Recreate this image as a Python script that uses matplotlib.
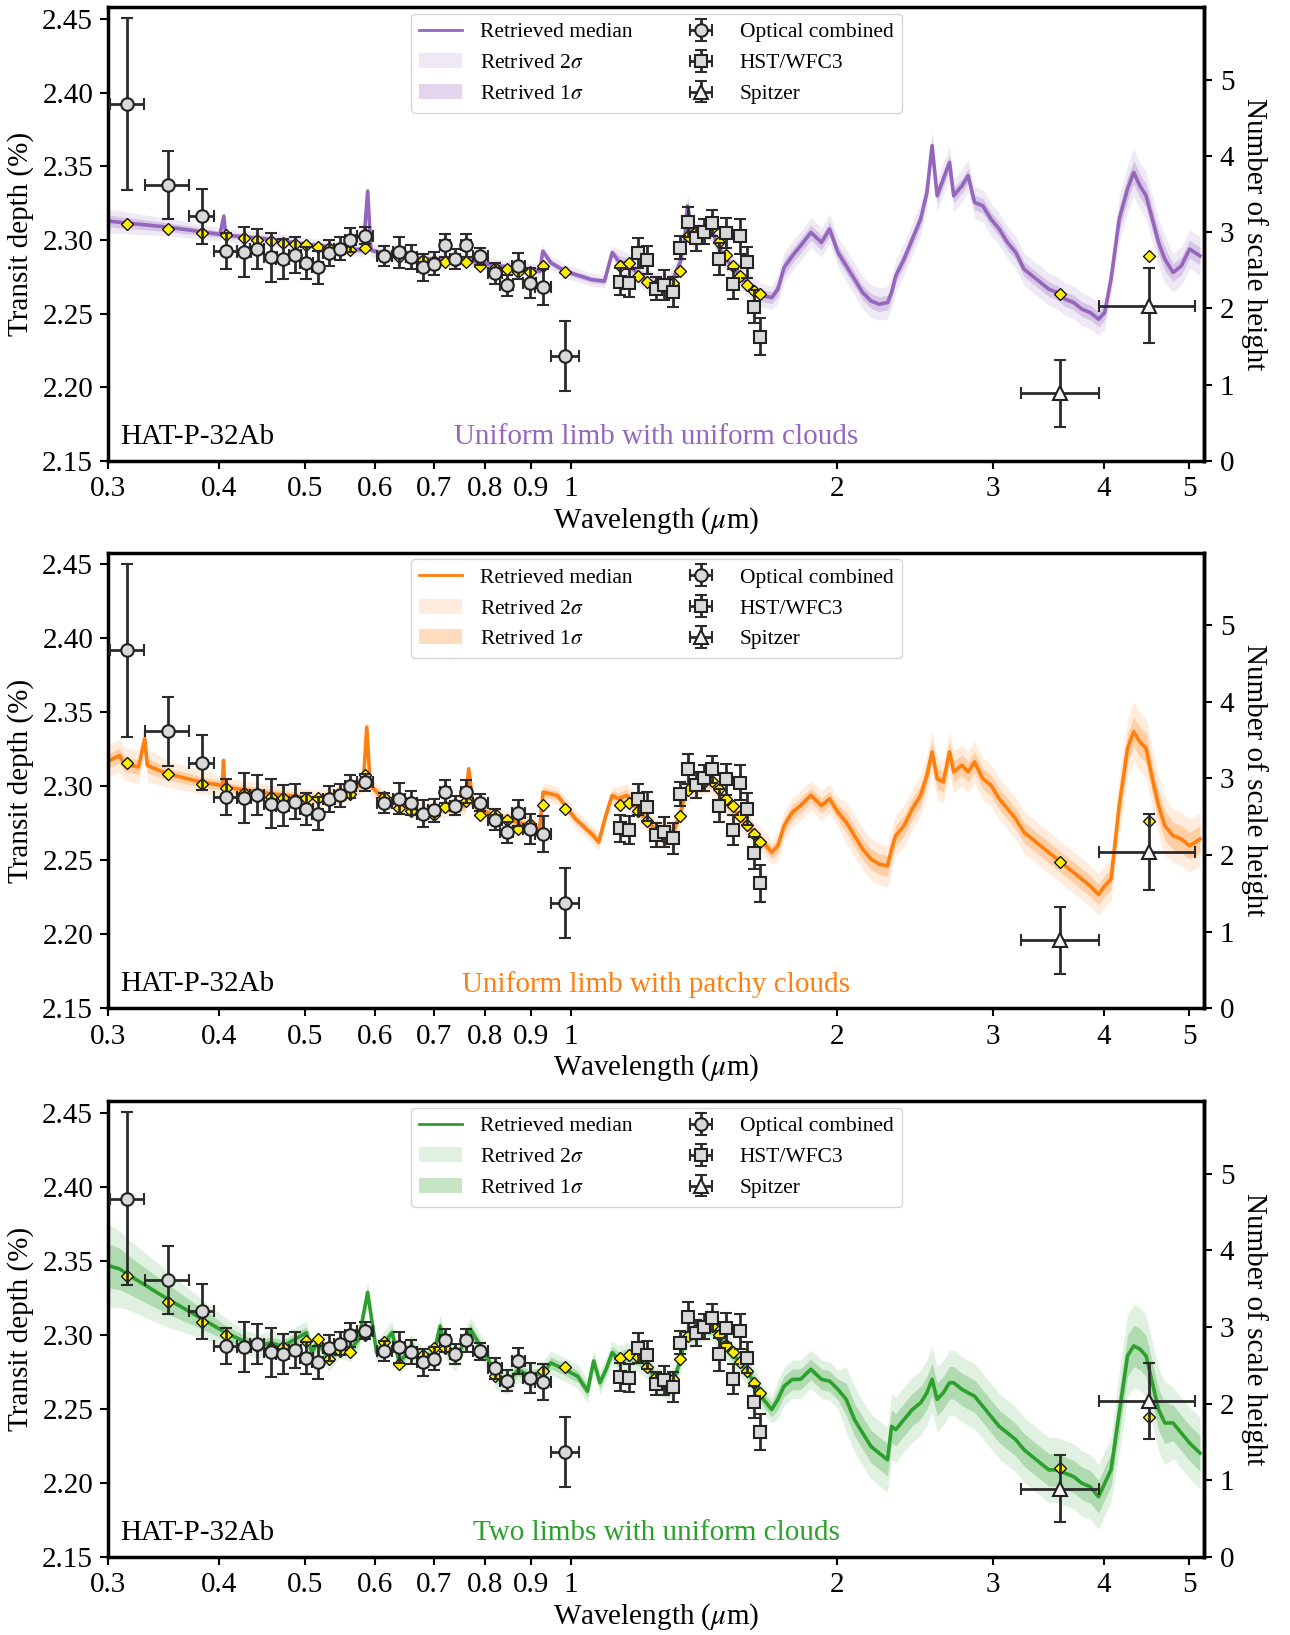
import numpy as np
import matplotlib
matplotlib.use("Agg")
import matplotlib.pyplot as plt
from matplotlib.patches import Patch
from matplotlib.lines import Line2D
from matplotlib.ticker import FixedLocator, NullLocator

plt.rcParams["font.family"] = ["Liberation Serif", "DejaVu Serif"]
plt.rcParams["mathtext.fontset"] = "stix"

# --- Observed spectrum (same in every panel) ---
OPT_WL = [0.315, 0.350, 0.3825, 0.407, 0.4267, 0.4418, 0.4575, 0.4721, 0.4873, 0.5022,
          0.5170, 0.5323, 0.5475, 0.5630, 0.5849, 0.6149, 0.6397, 0.6601, 0.6797, 0.6998,
          0.7204, 0.7398, 0.7600, 0.7897, 0.8214, 0.8457, 0.8719, 0.8977, 0.9294, 0.985]
OPT_D = [2.3921, 2.3372, 2.3161, 2.2927, 2.2921, 2.2941, 2.2884, 2.2871, 2.2898, 2.2846,
         2.2816, 2.2914, 2.2941, 2.3000, 2.3029, 2.2891, 2.2918, 2.2887, 2.2816, 2.2839,
         2.2964, 2.2871, 2.2964, 2.2891, 2.2775, 2.2692, 2.2823, 2.2710, 2.2680, 2.2211]
OPT_ERR = [0.0584, 0.0232, 0.0185, 0.0122, 0.0169, 0.0136, 0.0166, 0.0137, 0.0121, 0.0109,
           0.0113, 0.0087, 0.0077, 0.0079, 0.0057, 0.0068, 0.0105, 0.0083, 0.0091, 0.0078,
           0.0079, 0.0066, 0.0079, 0.0057, 0.0070, 0.0071, 0.0088, 0.0102, 0.0122, 0.0238]
OPT_XERR = [0.014, 0.020, 0.0125, 0.012, 0.008, 0.008, 0.008, 0.008, 0.008, 0.008,
            0.008, 0.008, 0.008, 0.008, 0.012, 0.012, 0.010, 0.010, 0.010, 0.010,
            0.010, 0.010, 0.010, 0.015, 0.015, 0.015, 0.015, 0.015, 0.020, 0.035]

WFC3_WL = [1.135, 1.163, 1.190, 1.218, 1.246, 1.274, 1.303, 1.329, 1.357, 1.386,
           1.414, 1.444, 1.470, 1.497, 1.526, 1.554, 1.580, 1.611, 1.637]
WFC3_D = [2.2717, 2.2708, 2.2912, 2.2864, 2.2671, 2.2694, 2.2649, 2.2948, 2.3120, 2.3011,
          2.3057, 2.3116, 2.2871, 2.3048, 2.2705, 2.3025, 2.2848, 2.2549, 2.2345]
WFC3_ERR = [0.0093, 0.0095, 0.0104, 0.0096, 0.0079, 0.0100, 0.0102, 0.0079, 0.0102, 0.0088,
            0.0086, 0.0091, 0.0111, 0.0104, 0.0102, 0.0119, 0.0105, 0.0109, 0.0124]

SPZ_WL = [3.568, 4.497]
SPZ_D = [2.1961, 2.2556]
SPZ_ERR = [0.0227, 0.0255]
SPZ_XERR = [[0.34, 0.55], [0.38, 0.57]]

# --- Retrieved spectra: infrared wavelength grid shared by all panels ---
IR_WL = [1.131, 1.156, 1.188, 1.220, 1.246, 1.288, 1.309, 1.330, 1.344, 1.354,
         1.373, 1.411, 1.442, 1.465, 1.497, 1.530, 1.563, 1.614, 1.650, 1.686,
         1.713, 1.741, 1.779, 1.817, 1.867, 1.919, 1.960, 2.003, 2.047, 2.091,
         2.136, 2.183, 2.230, 2.279, 2.303, 2.328, 2.379, 2.431, 2.484, 2.525,
         2.559, 2.593, 2.635, 2.678, 2.707, 2.766, 2.811, 2.858, 2.920, 2.983,
         3.048, 3.114, 3.182, 3.251, 3.322, 3.394, 3.468, 3.543, 3.620, 3.700,
         3.780, 3.863, 3.947, 4.011, 4.077, 4.165, 4.256, 4.325, 4.396, 4.467,
         4.540, 4.614, 4.690, 4.792, 4.896, 5.003, 5.140]

# panel 1: uniform limb, uniform clouds
P1_OPT_WL = [0.300, 0.350, 0.3825, 0.401, 0.405, 0.407, 0.4575, 0.502, 0.563, 0.582,
             0.589, 0.594, 0.615, 0.680, 0.760, 0.766, 0.772, 0.821, 0.898, 0.922,
             0.929, 0.949, 0.985, 1.054, 1.091, 1.113]
P1_OPT_D = [2.3129, 2.3088, 2.3057, 2.3039, 2.3163, 2.3034, 2.3005, 2.2971, 2.2941, 2.2932,
            2.3333, 2.2932, 2.2909, 2.2873, 2.2864, 2.2880, 2.2857, 2.2828, 2.2800, 2.2789,
            2.2925, 2.2846, 2.2789, 2.2732, 2.2721, 2.2916]
P1_IR_D = [2.2859, 2.2837, 2.2780, 2.2723, 2.2701, 2.2712, 2.2757, 2.2859, 2.3007, 2.3233,
           2.3029, 2.3075, 2.3075, 2.2961, 2.2871, 2.2803, 2.2735, 2.2655, 2.2621, 2.2610,
           2.2667, 2.2814, 2.2893, 2.2961, 2.3052, 2.2984, 2.3075, 2.2916, 2.2825, 2.2735,
           2.2644, 2.2587, 2.2565, 2.2576, 2.2644, 2.2757, 2.2871, 2.3007, 2.3143, 2.3324,
           2.3641, 2.3301, 2.3415, 2.3528, 2.3301, 2.3369, 2.3437, 2.3256, 2.3233, 2.3143,
           2.3075, 2.2984, 2.2916, 2.2803, 2.2757, 2.2712, 2.2667, 2.2644, 2.2599, 2.2576,
           2.2531, 2.2508, 2.2463, 2.2508, 2.2735, 2.3143, 2.3347, 2.3460, 2.3369, 2.3301,
           2.3143, 2.2984, 2.2871, 2.2780, 2.2825, 2.2939, 2.2893]
P1_OPT_SIG1 = [0.004, 0.003, 0.0025] + [0.002] * 23
P1_OPT_SIG2 = [0.008, 0.006, 0.005] + [0.0045] * 23
P1_IR_SIG1 = [0.004] * 20 + [0.005] * 8 + [0.005] * 37 + [0.008] * 8 + [0.006] * 4
P1_IR_SIG2 = [0.008] * 20 + [0.010] * 8 + [0.011] * 37 + [0.016] * 8 + [0.013] * 4
P1_BIN_OPT = [2.3107, 2.3077, 2.3048, 2.3034, 2.3011, 2.3002, 2.2993, 2.2982, 2.2971, 2.2966,
              2.2955, 2.2948, 2.2941, 2.2932, 2.2946, 2.2896, 2.2884, 2.2880, 2.2868, 2.2855,
              2.2853, 2.2855, 2.2853, 2.2821, 2.2812, 2.2805, 2.2782, 2.2785, 2.2823, 2.2785]
P1_BIN_WFC3 = [2.2821, 2.2844, 2.2757, 2.2717, 2.2694, 2.2699, 2.2708, 2.2787, 2.3025, 2.3052,
               2.3070, 2.3079, 2.2984, 2.2898, 2.2821, 2.2757, 2.2694, 2.2655, 2.2633]
P1_BIN_SPZ = [2.2634, 2.2890]

# panel 2: uniform limb, patchy clouds
P2_OPT_WL = [0.301, 0.3087, 0.3125, 0.3244, 0.3297, 0.3319, 0.3494, 0.3824, 0.4036, 0.4047,
             0.4059, 0.4578, 0.5168, 0.5621, 0.5824, 0.5876, 0.5929, 0.6141, 0.6772, 0.7595,
             0.7661, 0.7752, 0.8162, 0.8957, 0.9214, 0.9298, 0.9652, 1.011, 1.0594, 1.0745,
             1.0946, 1.113]
P2_OPT_D = [2.3176, 2.3209, 2.3153, 2.3131, 2.3322, 2.3142, 2.3086, 2.3029, 2.3007, 2.3176,
            2.2996, 2.2951, 2.2917, 2.2962, 2.3029, 2.3401, 2.3007, 2.2917, 2.2827, 2.2872,
            2.3119, 2.2872, 2.2804, 2.2737, 2.2714, 2.2962, 2.2939, 2.2782, 2.2669, 2.2624,
            2.2804, 2.2940]
P2_IR_D = [2.2917, 2.2940, 2.2849, 2.2770, 2.2701, 2.2667, 2.2713, 2.2826, 2.2940, 2.2974,
           2.3008, 2.3030, 2.3030, 2.2962, 2.2894, 2.2838, 2.2770, 2.2679, 2.2622, 2.2554,
           2.2599, 2.2735, 2.2826, 2.2871, 2.2940, 2.2871, 2.2917, 2.2826, 2.2758, 2.2667,
           2.2577, 2.2509, 2.2475, 2.2463, 2.2577, 2.2667, 2.2735, 2.2849, 2.2940, 2.3076,
           2.3234, 2.3053, 2.3030, 2.3234, 2.3098, 2.3144, 2.3098, 2.3166, 2.3053, 2.3008,
           2.2917, 2.2849, 2.2781, 2.2690, 2.2645, 2.2599, 2.2554, 2.2509, 2.2463, 2.2418,
           2.2373, 2.2327, 2.2271, 2.2327, 2.2373, 2.2871, 2.3257, 2.3370, 2.3302, 2.3257,
           2.3053, 2.2871, 2.2735, 2.2667, 2.2645, 2.2599, 2.2645]
P2_OPT_SIG1 = [0.005] * 6 + [0.004, 0.0035] + [0.003] * 24
P2_OPT_SIG2 = [0.011] * 6 + [0.009, 0.008] + [0.006] * 24
P2_IR_SIG1 = [0.004] * 20 + [0.005] * 8 + [0.007] * 37 + [0.010] * 8 + [0.009] * 4
P2_IR_SIG2 = [0.008] * 20 + [0.010] * 8 + [0.014] * 37 + [0.020] * 8 + [0.018] * 4
P2_BIN_OPT = [2.3158, 2.3086, 2.3014, 2.2993, 2.2957, 2.2939, 2.2932, 2.2921, 2.2917, 2.2921,
              2.2921, 2.2921, 2.2935, 2.2950, 2.3079, 2.2932, 2.2856, 2.2831, 2.2804, 2.2804,
              2.2860, 2.2872, 2.2905, 2.2804, 2.2816, 2.2771, 2.2710, 2.2748, 2.2872, 2.2849]
P2_BIN_WFC3 = [2.2876, 2.2890, 2.2831, 2.2765, 2.2679, 2.2657, 2.2663, 2.2799, 2.2978, 2.3019,
               2.3031, 2.3035, 2.2980, 2.2912, 2.2867, 2.2799, 2.2740, 2.2679, 2.2627]
P2_BIN_SPZ = [2.2493, 2.2769]

# panel 3: two limbs, uniform clouds
P3_OPT_WL = [0.300, 0.3088, 0.315, 0.350, 0.3825, 0.407, 0.4267, 0.4418, 0.4575, 0.4721,
             0.4873, 0.5022, 0.5092, 0.5170, 0.5323, 0.5475, 0.5630, 0.5754, 0.5889, 0.6029,
             0.6149, 0.6278, 0.6397, 0.6601, 0.6797, 0.6998, 0.7112, 0.7204, 0.7398, 0.7600,
             0.7697, 0.7897, 0.8064, 0.8214, 0.8457, 0.8719, 0.8977, 0.9294, 0.9490, 0.985,
             1.0176, 1.0436, 1.0606, 1.0779, 1.0954, 1.113]
P3_OPT_D = [2.3469, 2.3447, 2.3413, 2.3243, 2.3111, 2.3016, 2.2959, 2.2925, 2.2948, 2.2925,
            2.2971, 2.3016, 2.2880, 2.2959, 2.2834, 2.2925, 2.2902, 2.2971, 2.3288, 2.2880,
            2.2948, 2.3016, 2.2812, 2.2925, 2.2834, 2.2880, 2.3061, 2.2925, 2.2834, 2.2971,
            2.3039, 2.2925, 2.2834, 2.2721, 2.2676, 2.2766, 2.2721, 2.2744, 2.2812, 2.2766,
            2.2721, 2.2621, 2.2825, 2.2678, 2.2769, 2.2882]
P3_IR_D = [2.2837, 2.2859, 2.2848, 2.2791, 2.2701, 2.2655, 2.2712, 2.2837, 2.2973, 2.3007,
           2.3007, 2.3052, 2.3052, 2.2995, 2.2927, 2.2859, 2.2791, 2.2678, 2.2565, 2.2497,
           2.2565, 2.2655, 2.2701, 2.2701, 2.2769, 2.2701, 2.2689, 2.2633, 2.2565, 2.2429,
           2.2338, 2.2247, 2.2202, 2.2157, 2.2383, 2.2361, 2.2429, 2.2497, 2.2542, 2.2610,
           2.2701, 2.2565, 2.2610, 2.2678, 2.2678, 2.2633, 2.2610, 2.2587, 2.2519, 2.2451,
           2.2383, 2.2338, 2.2293, 2.2225, 2.2179, 2.2134, 2.2089, 2.2089, 2.2066, 2.2043,
           2.1998, 2.1975, 2.1907, 2.1998, 2.2089, 2.2474, 2.2859, 2.2927, 2.2905, 2.2859,
           2.2678, 2.2497, 2.2406, 2.2406, 2.2338, 2.2270, 2.2202]
P3_OPT_SIG1 = [0.015, 0.014, 0.013, 0.010, 0.007, 0.005] + [0.004] * 40
P3_OPT_SIG2 = [0.028, 0.026, 0.024, 0.019, 0.013, 0.010] + [0.008] * 40
P3_IR_SIG1 = [0.005] * 20 + [0.007] * 8 + [0.011] * 37 + [0.014] * 8 + [0.012] * 4
P3_IR_SIG2 = [0.009] * 20 + [0.013] * 8 + [0.022] * 37 + [0.028] * 8 + [0.024] * 4
P3_BIN_OPT = [2.3397, 2.3225, 2.3088, 2.2998, 2.2925, 2.2925, 2.2914, 2.2921, 2.2902, 2.2959,
              2.2971, 2.2839, 2.2891, 2.2887, 2.3000, 2.2952, 2.2807, 2.2902, 2.2868, 2.2914,
              2.2914, 2.2884, 2.2959, 2.2873, 2.2721, 2.2694, 2.2834, 2.2710, 2.2755, 2.2785]
P3_BIN_WFC3 = [2.2844, 2.2866, 2.2855, 2.2787, 2.2719, 2.2678, 2.2701, 2.2837, 2.2995, 2.3041,
               2.3059, 2.3059, 2.3000, 2.2932, 2.2887, 2.2818, 2.2757, 2.2678, 2.2610]
P3_BIN_SPZ = [2.2103, 2.2443]

PANELS = [
    dict(title="Uniform limb with uniform clouds", color="#9467bd",
         opt_wl=P1_OPT_WL, opt_d=P1_OPT_D, ir_d=P1_IR_D,
         s1=P1_OPT_SIG1 + P1_IR_SIG1, s2=P1_OPT_SIG2 + P1_IR_SIG2,
         bins=(P1_BIN_OPT, P1_BIN_WFC3, P1_BIN_SPZ)),
    dict(title="Uniform limb with patchy clouds", color="#ff7f0e",
         opt_wl=P2_OPT_WL, opt_d=P2_OPT_D, ir_d=P2_IR_D,
         s1=P2_OPT_SIG1 + P2_IR_SIG1, s2=P2_OPT_SIG2 + P2_IR_SIG2,
         bins=(P2_BIN_OPT, P2_BIN_WFC3, P2_BIN_SPZ)),
    dict(title="Two limbs with uniform clouds", color="#2ca02c",
         opt_wl=P3_OPT_WL, opt_d=P3_OPT_D, ir_d=P3_IR_D,
         s1=P3_OPT_SIG1 + P3_IR_SIG1, s2=P3_OPT_SIG2 + P3_IR_SIG2,
         bins=(P3_BIN_OPT, P3_BIN_WFC3, P3_BIN_SPZ)),
]

# axes boxes in figure fractions [left, bottom, width, height]
AX_POS = [[0.0841, 0.7180, 0.8496, 0.2775],
          [0.0841, 0.3832, 0.8496, 0.2788],
          [0.0841, 0.0477, 0.8496, 0.2787]]

XTICKS = [0.3, 0.4, 0.5, 0.6, 0.7, 0.8, 0.9, 1, 2, 3, 4, 5]
XTICKLABELS = ["0.3", "0.4", "0.5", "0.6", "0.7", "0.8", "0.9", "1", "2", "3", "4", "5"]
YTICKS = [2.15, 2.20, 2.25, 2.30, 2.35, 2.40, 2.45]
H_TICKS = [0, 1, 2, 3, 4, 5]
D_BASE, D_PER_H = 2.15, 0.0518   # depth at zero scale heights, depth per scale height

FS = 21
fig = plt.figure(figsize=(12.9, 16.35), dpi=100)

for pos, p in zip(AX_POS, PANELS):
    ax = fig.add_axes(pos)
    c = p["color"]
    wl = np.concatenate([p["opt_wl"], IR_WL])
    med = np.concatenate([p["opt_d"], p["ir_d"]])
    s1 = np.array(p["s1"])
    s2 = np.array(p["s2"])

    ax.fill_between(wl, med - s2, med + s2, color=c, alpha=0.14, lw=0, zorder=1)
    ax.fill_between(wl, med - s1, med + s1, color=c, alpha=0.27, lw=0, zorder=1)
    ax.plot(wl, med, color=c, lw=2.6, zorder=2)

    # binned model points
    dkw = dict(ls="none", marker="D", ms=6, mfc="#ffee00", mec="k", mew=0.9, zorder=3)
    ax.plot(OPT_WL, p["bins"][0], **dkw)
    ax.plot(WFC3_WL, p["bins"][1], **dkw)
    ax.plot(SPZ_WL, p["bins"][2], **dkw)

    ekw = dict(ls="none", ecolor="#2b2b2b", elinewidth=2, capsize=4, capthick=2,
               mec="#222222", mew=1.5, zorder=4)
    h_opt = ax.errorbar(OPT_WL, OPT_D, yerr=OPT_ERR, xerr=OPT_XERR, marker="o", ms=9,
                        mfc="#d9d9d9", **ekw)
    h_wfc = ax.errorbar(WFC3_WL, WFC3_D, yerr=WFC3_ERR, xerr=0.009, marker="s", ms=8,
                        mfc="#d9d9d9", **ekw)
    h_spz = ax.errorbar(SPZ_WL, SPZ_D, yerr=SPZ_ERR, xerr=SPZ_XERR, marker="^", ms=10,
                        mfc="#f4f4f4", **ekw)

    ax.set_xscale("log")
    ax.set_xlim(0.3, 5.2)
    ax.set_ylim(2.15, 2.458)
    ax.xaxis.set_major_locator(FixedLocator(XTICKS))
    ax.xaxis.set_minor_locator(NullLocator())
    ax.set_xticklabels(XTICKLABELS)
    ax.set_yticks(YTICKS)
    ax.set_yticklabels([f"{t:.2f}" for t in YTICKS])
    ax.tick_params(direction="out", length=6, width=1.5, labelsize=FS, pad=5)
    for sp in ax.spines.values():
        sp.set_linewidth(2.5)
    ax.set_xlabel(r"Wavelength ($\mu$m)", fontsize=FS, labelpad=2)
    ax.set_ylabel("Transit depth (%)", fontsize=FS, labelpad=6)

    sec = ax.secondary_yaxis("right", functions=(lambda d: (d - D_BASE) / D_PER_H,
                                                 lambda h: D_BASE + h * D_PER_H))
    sec.set_yticks(H_TICKS)
    sec.tick_params(direction="out", length=6, width=1.5, labelsize=FS, pad=5)
    sec.spines["right"].set_linewidth(2.5)
    sec.set_ylabel("Number of scale height", rotation=270, labelpad=24, fontsize=FS)

    handles = [Line2D([], [], color=c, lw=2),
               Patch(facecolor=c, alpha=0.14, lw=0),
               Patch(facecolor=c, alpha=0.27, lw=0),
               h_opt, h_wfc, h_spz]
    labels = ["Retrieved median", r"Retrived 2$\sigma$", r"Retrived 1$\sigma$",
              "Optical combined", "HST/WFC3", "Spitzer"]
    ax.legend(handles, labels, loc="upper center", ncol=2, fontsize=15.5,
              columnspacing=2.2, handlelength=2.0, borderaxespad=0.3,
              labelspacing=0.5)

    ax.text(0.0105, 0.053, "HAT-P-32Ab", transform=ax.transAxes, fontsize=FS,
            ha="left", va="center")
    ax.text(0.5, 0.053, p["title"], transform=ax.transAxes, fontsize=FS, color=c,
            ha="center", va="center")

fig.savefig("out.png", dpi=100)
